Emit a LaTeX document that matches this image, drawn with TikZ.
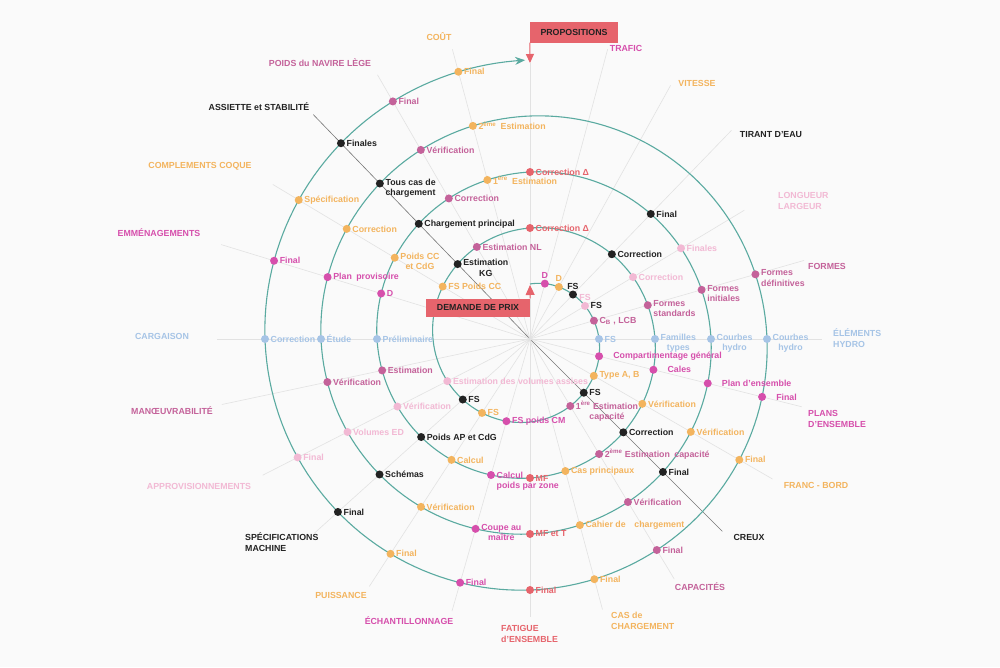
\documentclass[tikz,border=0pt]{standalone}
\usepackage{fontspec}
\setmainfont{Liberation Sans}
\usetikzlibrary{arrows.meta}

\definecolor{paper}{HTML}{FAFAFA}
\definecolor{spiralc}{HTML}{5AAAA0}
\definecolor{ink}{HTML}{222222}
\definecolor{orng}{HTML}{F3B45E}
\definecolor{mag}{HTML}{D64FAC}
\definecolor{mauve}{HTML}{C4629A}
\definecolor{lpink}{HTML}{F2B9D4}
\definecolor{lblue}{HTML}{A6C4E6}
\definecolor{coral}{HTML}{E6646C}
\definecolor{raygray}{HTML}{E2E2E2}
\definecolor{raydark}{HTML}{777777}

\begin{document}
\begin{tikzpicture}[x=1pt,y=-1pt,
  dot/.style={circle,inner sep=0pt,minimum size=8pt},
  lbl/.style={font=\fontsize{8.8}{10.4}\selectfont\bfseries,inner sep=0pt},
  lblr/.style={anchor=west,xshift=5.5pt},
  lblw/.style={anchor=west,xshift=14pt},
  lblt/.style={anchor=north west,xshift=5.5pt,yshift=5pt,align=left},
  lblc/.style={anchor=north west,xshift=5.5pt,yshift=5pt,align=center},
  lbla/.style={anchor=south,yshift=5pt},
  cat/.style={font=\fontsize{8.8}{10.4}\selectfont\bfseries,inner sep=0pt,align=left},
  ray/.style={raygray,line width=0.6pt},
  raydk/.style={raydark,line width=0.6pt},
  redbox/.style={fill=coral,text=ink,font=\fontsize{8.8}{10.4}\selectfont\bfseries,inner sep=0pt}]
\fill[paper] (0,0) rectangle (1000,667);
\useasboundingbox (0,0) rectangle (1000,667);
\coordinate (O) at (530,339);

\foreach \Name/\Ang/\Rad/\Sty/\Col/\Anc/\X/\Y/\Txt in {
  poids/330/305/ray/mauve/center/320/63/{POIDS du NAVIRE LÈGE},
  assiette/316/312/raydk/ink/center/259/107/{ASSIETTE et STABILITÉ},
  coque/301/300/ray/orng/center/200/166/{COMPLEMENTS COQUE},
  emmen/287/323/ray/mag/center/159/233/{EMMÉNAGEMENTS},
  cargaison/270/313/ray/lblue/center/162/336/{CARGAISON},
  manoeuv/258/315/ray/mauve/center/172/411/{MANŒUVRABILITÉ},
  approv/243/300/ray/lpink/center/199/486/{APPROVISIONNEMENTS},
  specmach/228/290/ray/ink/west/245/542/{SPÉCIFICATIONS\\MACHINE},
  puissance/213/295/ray/orng/center/341/595/{PUISSANCE},
  echant/196/283/ray/mag/center/409/621/{ÉCHANTILLONNAGE},
  fatigue/180/278/ray/coral/west/501/634/{FATIGUE\\d'ENSEMBLE},
  cas/165/280/ray/orng/west/611/621/{CAS de\\CHARGEMENT},
  capac/149/280/ray/mauve/center/700/587/{CAPACITÉS},
  creux/135/272/raydk/ink/center/749/537/{CREUX},
  franc/120/280/ray/orng/center/816/485/{FRANC - BORD},
  plans/104/280/ray/mag/west/808/419/{PLANS\\D'ENSEMBLE},
  hydro/90/292/ray/lblue/west/833/338/{ÉLÉMENTS\\HYDRO},
  formes/74/285/ray/mauve/center/827/266/{FORMES},
  longueur/59/250/ray/lpink/west/778/201/{LONGUEUR\\LARGEUR},
  tirant/44/290/ray/ink/center/771/135/{TIRANT D'EAU},
  vitesse/29/290/ray/orng/center/697/83/{VITESSE},
  trafic/15/300/ray/mag/center/626/48/{TRAFIC},
  cout/345/300/ray/orng/center/439/37/{COÛT}}{
  \coordinate (e\Name) at ({530+\Rad*sin(\Ang)},{339-\Rad*cos(\Ang)});
  \draw[\Sty] (O) -- (e\Name);
  \node[cat,text=\Col,anchor=\Anc] (\Name) at (\X,\Y) {\Txt};
}
\coordinate (tip) at (530,63);
\draw[ray] (O) -- (tip);

\draw[spiralc,line width=1.1pt,-{Stealth[length=10pt,width=8pt]}]
  plot[domain=0:1439,samples=720,variable=\Q]
  ({530+(55+0.155556*\Q)*sin(\Q)},{339-(55+0.155556*\Q)*cos(\Q)});

\foreach \Name/\Ang/\Turn/\Col/\Sty/\Txt in {
  poids/330/0/mauve/lblr/{Estimation NL},
  poids/330/1/mauve/lblr/{Correction},
  poids/330/2/mauve/lblr/{Vérification},
  poids/330/3/mauve/lblr/{Final},
  assiette/316/0/ink/lblc/{Estimation\\KG},
  assiette/316/1/ink/lblr/{Chargement principal},
  assiette/316/2/ink/lblt/{Tous cas de\\chargement},
  assiette/316/3/ink/lblr/{Finales},
  coque/301/0/orng/lblr/{FS Poids CC},
  coque/301/1/orng/lblc/{Poids CC\\et CdG},
  coque/301/2/orng/lblr/{Correction},
  coque/301/3/orng/lblr/{Spécification},
  emmen/287/1/mag/lblr/{D},
  emmen/287/2/mag/lblr/{Plan\enspace provisoire},
  emmen/287/3/mag/lblr/{Final},
  cargaison/270/1/lblue/lblr/{Préliminaire},
  cargaison/270/2/lblue/lblr/{Étude},
  cargaison/270/3/lblue/lblr/{Correction},
  manoeuv/258/1/mauve/lblr/{Estimation},
  manoeuv/258/2/mauve/lblr/{Vérification},
  approv/243/0/lpink/lblr/{Estimation des volumes assises},
  approv/243/1/lpink/lblr/{Vérification},
  approv/243/2/lpink/lblr/{Volumes ED},
  approv/243/3/lpink/lblr/{Final},
  specmach/228/0/ink/lblr/{FS},
  specmach/228/1/ink/lblr/{Poids AP et CdG},
  specmach/228/2/ink/lblr/{Schémas},
  specmach/228/3/ink/lblr/{Final},
  puissance/213/0/orng/lblr/{FS},
  puissance/213/1/orng/lblr/{Calcul},
  puissance/213/2/orng/lblr/{Vérification},
  puissance/213/3/orng/lblr/{Final},
  echant/196/0/mag/lblr/{FS poids CM},
  echant/196/1/mag/lblr/{Calcul},
  echant/196/2/mag/lblc/{Coupe au\\maître},
  echant/196/3/mag/lblr/{Final},
  fatigue/180/1/coral/lblr/{MF},
  fatigue/180/2/coral/lblr/{MF et T},
  fatigue/180/3/coral/lblr/{Final},
  cas/165/1/orng/lblr/{Cas principaux},
  cas/165/2/orng/lblr/{Cahier de\quad chargement},
  cas/165/3/orng/lblr/{Final},
  capac/149/0/mauve/lblc/{1\textsuperscript{ère} Estimation\\capacité},
  capac/149/1/mauve/lblr/{2\textsuperscript{ème} Estimation\enspace capacité},
  capac/149/2/mauve/lblr/{Vérification},
  capac/149/3/mauve/lblr/{Final},
  creux/135/0/ink/lblr/{FS},
  creux/135/1/ink/lblr/{Correction},
  creux/135/2/ink/lblr/{Final},
  franc/120/0/orng/lblr/{Type A, B},
  franc/120/1/orng/lblr/{Vérification},
  franc/120/2/orng/lblr/{Vérification},
  franc/120/3/orng/lblr/{Final},
  plans/104/0/mag/lblw/{Compartimentage général},
  plans/104/1/mag/lblw/{Cales},
  plans/104/2/mag/lblw/{Plan d'ensemble},
  plans/104/3/mag/lblw/{Final},
  hydro/90/0/lblue/lblr/{FS},
  hydro/90/1/lblue/lblc/{Familles\\types},
  hydro/90/2/lblue/lblc/{Courbes\\hydro},
  hydro/90/3/lblue/lblc/{Courbes\\hydro},
  formes/74/0/mauve/lblr/{C\textsubscript{B} , LCB},
  formes/74/1/mauve/lblt/{Formes\\standards},
  formes/74/2/mauve/lblt/{Formes\\initiales},
  formes/74/3/mauve/lblt/{Formes\\définitives},
  longueur/59/0/lpink/lbla/{FS},
  longueur/59/1/lpink/lblr/{Correction},
  longueur/59/2/lpink/lblr/{Finales},
  tirant/44/0/ink/lbla/{FS},
  tirant/44/1/ink/lblr/{Correction},
  tirant/44/2/ink/lblr/{Final},
  vitesse/29/0/orng/lbla/{D},
  trafic/15/0/mag/lbla/{D},
  cout/345/1/orng/lblr/{1\textsuperscript{ère}\enspace Estimation},
  cout/345/2/orng/lblr/{2\textsuperscript{ème}\enspace Estimation},
  cout/345/3/orng/lblr/{Final},
  top/0/1/coral/lblr/{Correction Δ},
  top/0/2/coral/lblr/{Correction Δ}}{
  \node[dot,fill=\Col] (\Name\Turn) at ({530+(55+56*(\Ang/360+\Turn))*sin(\Ang)},{339-(55+56*(\Ang/360+\Turn))*cos(\Ang)}) {};
  \node[lbl,\Sty,text=\Col] (t\Name\Turn) at (\Name\Turn) {\Txt};
}
\node[lbl,lblr,text=ink] (fsx) at (longueur0) {FS};
\node[lbl,anchor=north west,yshift=-3pt,text=mag] (pzone) at (techant1.south west) {poids par zone};

\node[redbox,minimum width=88pt,minimum height=21pt] (prop) at (574,32) {PROPOSITIONS};
\node[redbox,minimum width=104pt,minimum height=18pt] (dem) at (478,307.5) {DEMANDE DE PRIX};
\coordinate (spstart) at (530,285);
\draw[coral,line width=1pt,-{Triangle[length=9pt,width=8pt]}] (prop.south west) -- (tip);
\draw[coral,line width=1pt,-{Triangle[length=10pt,width=9pt]}] (dem.north east) -- (spstart);
\end{tikzpicture}
\end{document}
